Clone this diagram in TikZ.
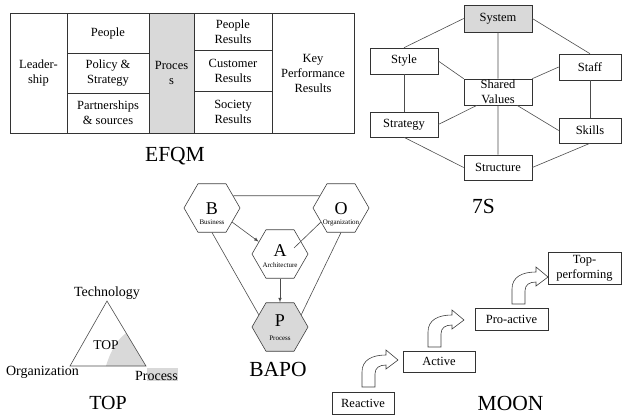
\documentclass[tikz,border=0pt]{standalone}
\usepackage{fontspec}
\setmainfont{Liberation Serif}
\usetikzlibrary{arrows,shapes.geometric}
\tikzset{upbend/.pic={\draw[black!75,fill=white](0,0)--(0,-15)..controls(0,-27)and(10,-32)..(24,-32)--(24,-37)--(36,-27)--(24,-18)--(24,-22)..controls(17,-22)and(13,-19)..(13,-13)--(13,0)--cycle;}}

\begin{document}
\begin{tikzpicture}[x=1pt,y=-1pt,semithick,
  box/.style={draw=black!80,inner sep=0pt,align=center,font=\fontsize{12.5}{15}\selectfont},
  hexa/.style={draw=black!75,regular polygon,regular polygon sides=6,minimum size=56pt,inner sep=0pt},
  big/.style={anchor=base,font=\fontsize{21.5}{24}\selectfont},
  link/.style={draw=black!70},
  shade/.style={fill=black!15}]
\useasboundingbox(0,0)rectangle(622,415);
% EFQM
\node[box,minimum width=57,minimum height=120](lead)at(38.5,73){Leader-\\ship};
\node[box,minimum width=82,minimum height=40](ppl)at(108,33){People};
\node[box,minimum width=82,minimum height=40](pol)at(108,73){Policy \&\\Strategy};
\node[box,minimum width=82,minimum height=40](part)at(108,113){Partnerships\\\& sources};
\node[box,shade,minimum width=45,minimum height=120](proc)at(171.5,73){Proces\\s};
\node[box,minimum width=78,minimum height=37](pres)at(233,31.5){People\\Results};
\node[box,minimum width=78,minimum height=41](cres)at(233,70.5){Customer\\Results};
\node[box,minimum width=78,minimum height=42](sres)at(233,112){Society\\Results};
\node[box,minimum width=82,minimum height=120](kpr)at(313,73){Key\\Performance\\Results};
\node[big](efqm)at(175,161){EFQM};
% 7S
\node[box,shade,minimum width=68,minimum height=27](sys)at(498,18.5){System};
\node[box,minimum width=68,minimum height=26](sty)at(404,61){Style};
\node[box,minimum width=62,minimum height=26](sta)at(590,67){Staff};
\node[box,minimum width=68,minimum height=26](shv)at(498,92){Shared\\Values};
\node[box,minimum width=68,minimum height=25](str)at(404,124.5){Strategy};
\node[box,minimum width=62,minimum height=25](ski)at(590,130.5){Skills};
\node[box,minimum width=68,minimum height=25](stu)at(498,167.5){Structure};
\node[big](sev)at(483.5,213){7S};
\draw[link](sys.west)--(sty.north)(sys.east)--(sta.north)(sys)--(shv)(shv)--(stu);
\draw[link](sty.east)--(shv.north west)(sta.west)--(shv.north east);
\draw[link](sty)--(str)(sta)--(ski);
\draw[link](str.east)--([xshift=-21pt]shv.south)(ski.west)--([xshift=19pt]shv.south);
\draw[link](str.south)--(stu.west)(ski.south)--(stu.east);
% BAPO
\node[hexa](B)at(212,208){};\node[hexa](O)at(341,208){};
\node[hexa](A)at(280,254){};\node[hexa,shade](P)at(280,327){};
\node[font=\fontsize{18}{18}\selectfont](Bl)at(212,209){B};
\node[font=\fontsize{18}{18}\selectfont](Ol)at(341,209){O};
\node[font=\fontsize{18}{18}\selectfont](Al)at(280,251){A};
\node[font=\fontsize{18}{18}\selectfont](Pl)at(280,321){P};
\node[font=\fontsize{7}{8}\selectfont](Bt)at(212,222.5){Business};
\node[font=\fontsize{7}{8}\selectfont](Ot)at(341,222.5){Organization};
\node[font=\fontsize{7}{8}\selectfont](At)at(280,265){Architecture};
\node[font=\fontsize{7}{8}\selectfont](Pt)at(280,338){Process};
\coordinate(Ain)at(294,248);
\draw[link](B.30)--(O.150)(B.south)--(P.150)(O.south)--(P.30)(O.215)--(Ain);
\draw[link,-latex](B.-35)--(A.150);
\draw[link,-latex](A.south)--(P.north);
\node[big](bapo)at(278,376.7){BAPO};
% TOP
\coordinate(tT)at(107,301);\coordinate(tO)at(70,366);\coordinate(tP)at(146,366);
\fill[shade](106,366)..controls(111,350)and(117,340)..(126.2,333)--(tP)--cycle;
\fill[shade](147,368)rectangle(178,381);
\draw[link](tT)--(tO)--(tP)--cycle;
\node[anchor=base,font=\fontsize{14}{16}\selectfont](tech)at(107,296.7){Technology};
\node[anchor=base,font=\fontsize{13.5}{16}\selectfont](topin)at(106,349){TOP};
\node[anchor=base,font=\fontsize{14}{16}\selectfont](org)at(42.5,375.7){Organization};
\node[anchor=base,font=\fontsize{14}{16}\selectfont](prc)at(156.5,380){Process};
\node[big,font=\fontsize{20}{22}\selectfont](top)at(108,409){TOP};
% MOON
\node[box,minimum width=62,minimum height=22](rea)at(363,403){Reactive};
\node[box,minimum width=72,minimum height=21](act)at(439,361.5){Active};
\node[box,minimum width=73,minimum height=22](pro)at(511.5,319){Pro-active};
\node[box,minimum width=73,minimum height=32](tpf)at(584.5,268){Top-\\performing};
\pic at(362,387){upbend};\pic at(428,347){upbend};\pic at(512,304){upbend};
\node[big](moon)at(510.5,410){MOON};
\end{tikzpicture}
\end{document}
